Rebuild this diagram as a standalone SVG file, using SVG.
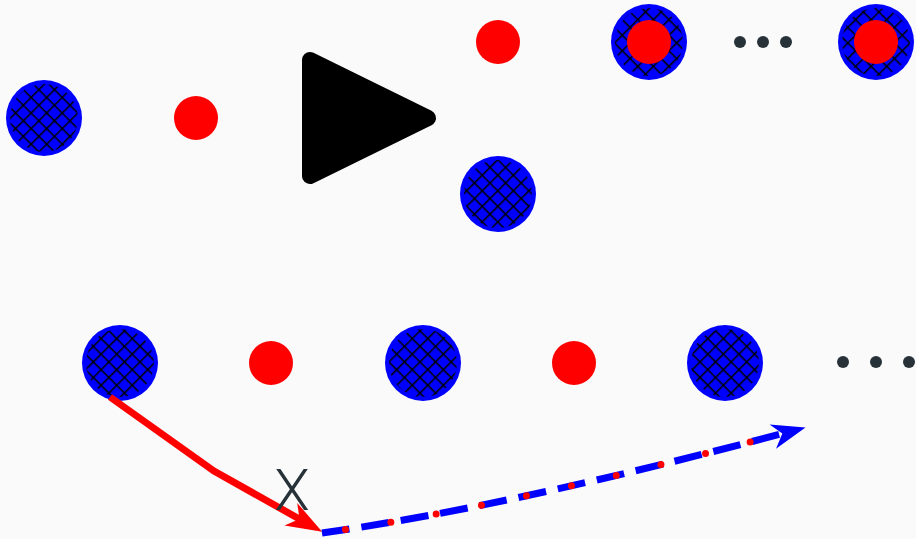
<svg xmlns="http://www.w3.org/2000/svg" width="916" height="539" viewBox="0 0 916 539">
<defs>
<pattern id="hatch" width="11" height="11" patternUnits="userSpaceOnUse" patternTransform="translate(0,3) rotate(45)">
<path d="M0,0 H11 M0,0 V11" stroke="#000" stroke-width="3" fill="none"/>
</pattern>
<marker id="redArrow" markerWidth="40" markerHeight="30" refX="-4" refY="0" orient="auto" markerUnits="userSpaceOnUse" overflow="visible">
<path d="M10,0 L-26,-13 L-16,0 L-26,13 Z" fill="#ff0000"/>
</marker>
<marker id="blueArrow" markerWidth="40" markerHeight="30" refX="-4" refY="0" orient="auto" markerUnits="userSpaceOnUse" overflow="visible">
<path d="M10,0 L-24,-12 L-14,0 L-24,13 Z" fill="#0000ff"/>
</marker>
</defs>
<style>
.bg{fill:#0000ff}
.hx{fill:url(#hatch)}
.red{fill:#ff0000}
.dot{fill:#263238}
</style>
<rect width="916" height="539" fill="#fafafa"/>
<g id="n1"><circle class="bg" cx="44" cy="118" r="38"/><circle class="hx" cx="44" cy="118" r="34"/></g>
<g id="n2"><circle class="red" cx="196" cy="118" r="22"/></g>
<g id="play"><path d="M310,60 L428,118 L310,176 Z" fill="#000" stroke="#000" stroke-width="16" stroke-linejoin="round"/></g>
<g id="n3"><circle class="red" cx="498" cy="42" r="22"/></g>
<g id="n4"><circle class="bg" cx="498" cy="194" r="38"/><circle class="hx" cx="498" cy="194" r="34"/></g>
<g id="n5"><circle class="bg" cx="649" cy="42" r="38"/><circle class="hx" cx="649" cy="42" r="34"/><circle class="red" cx="649" cy="42" r="22"/></g>
<g id="dots1"><circle class="dot" cx="740" cy="42" r="6"/><circle class="dot" cx="763" cy="42" r="6"/><circle class="dot" cx="786" cy="42" r="6"/></g>
<g id="n6"><circle class="bg" cx="876" cy="42" r="38"/><circle class="hx" cx="876" cy="42" r="34"/><circle class="red" cx="876" cy="42" r="22"/></g>
<g id="m1"><circle class="bg" cx="120" cy="363" r="38"/><circle class="hx" cx="120" cy="363" r="34"/></g>
<g id="m2"><circle class="red" cx="271" cy="363" r="22"/></g>
<g id="m3"><circle class="bg" cx="423" cy="363" r="38"/><circle class="hx" cx="423" cy="363" r="34"/></g>
<g id="m4"><circle class="red" cx="574" cy="363" r="22"/></g>
<g id="m5"><circle class="bg" cx="725" cy="363" r="38"/><circle class="hx" cx="725" cy="363" r="34"/></g>
<g id="dots2"><circle class="dot" cx="843" cy="362" r="6"/><circle class="dot" cx="876" cy="362" r="6"/><circle class="dot" cx="909" cy="362" r="6"/></g>
<g id="connectors" fill="none">
<path d="M110,397 L214,471 L310,525" stroke="#ff0000" stroke-width="7" marker-end="url(#redArrow)"/>
<path d="M322,533 C450,515 600,482 792,431" stroke="#0000ff" stroke-width="7" stroke-dasharray="28 12" marker-end="url(#blueArrow)"/>
<path d="M322,533 C450,515 600,482 792,431" stroke="#ff0000" stroke-width="7" stroke-linecap="round" stroke-dasharray="0 46" stroke-dashoffset="-24"/>
</g>
<text x="292" y="510" font-family="Roboto, 'Liberation Sans', sans-serif" font-weight="300" font-size="58" fill="#263238" text-anchor="middle">X</text>
</svg>
